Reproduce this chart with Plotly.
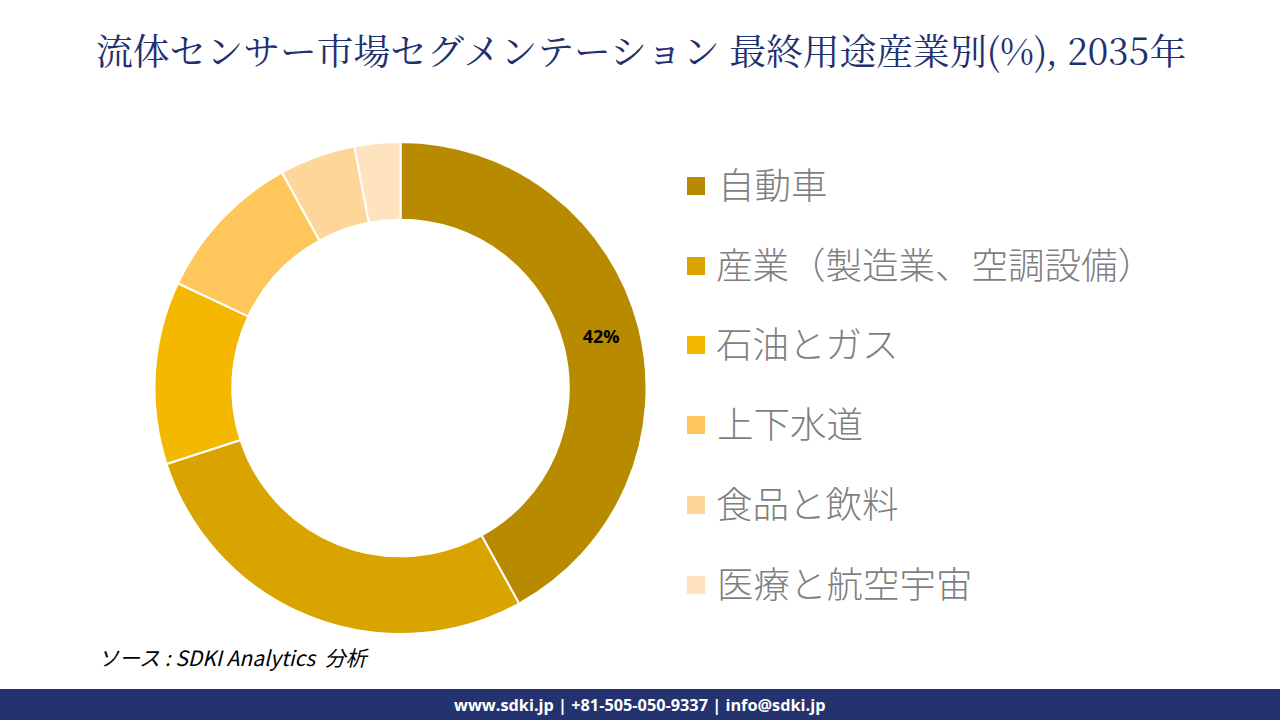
import plotly.graph_objects as go

categories = ["自動車", "産業（製造業、空調設備）", "石油とガス", "上下水道", "食品と飲料", "医療と航空宇宙"]
values = [42, 28, 12, 10, 5, 3]
colors = ["#B88A00", "#D9A400", "#F4B800", "#FFC65C", "#FFD699", "#FFE3BF"]
slice_labels = ["42%", "", "", "", "", ""]
title = "流体センサー市場セグメンテーション 最終用途産業別(%), 2035年"
source = "ソース : SDKI Analytics  分析"
footer = "www.sdki.jp | +81-505-050-9337 | info@sdki.jp"

W, H = 1280, 720
CJK = "Noto Sans CJK JP"
legend_y = [185, 265, 344, 424, 504, 584]
legend_x = [716, 714, 714, 715, 714, 715]

fig = go.Figure(go.Pie(
    labels=categories, values=values, text=slice_labels, textinfo="text",
    textposition="inside", insidetextorientation="horizontal",
    textfont=dict(family="Open Sans", size=18, color="#000000", weight="bold"),
    hole=0.684, sort=False, direction="clockwise", rotation=0,
    marker=dict(colors=colors, line=dict(color="#FFFFFF", width=2)),
    domain=dict(x=[154.5 / W, 646.5 / W], y=[(H - 634.5) / H, (H - 141.5) / H]),
    showlegend=False, hoverinfo="label+percent",
))

shapes = [dict(type="rect", xref="paper", yref="paper", x0=0, x1=1, y0=0, y1=31 / H,
               fillcolor="#243370", line_width=0, layer="below")]
annotations = [
    dict(text=title, x=641 / W, y=(H - 50) / H, xanchor="center", yanchor="middle", showarrow=False,
         font=dict(family="Noto Serif CJK JP, " + CJK, size=36.8, color="#1F3170")),
    dict(text=f"<i>{source}</i>", x=96 / W, y=(H - 657) / H, xanchor="left", yanchor="middle", showarrow=False,
         font=dict(family=CJK + ", Open Sans", size=21, color="#000000")),
    dict(text=f"<b>{footer}</b>", x=639 / W, y=15.5 / H, xanchor="center", yanchor="middle", showarrow=False,
         font=dict(family="Open Sans", size=16.3, color="#FFFFFF")),
]
for name, col, yc, xl in zip(categories, colors, legend_y, legend_x):
    shapes.append(dict(type="rect", xref="paper", yref="paper",
                       x0=687 / W, x1=705 / W, y0=(H - yc - 10) / H, y1=(H - yc + 8) / H,
                       fillcolor=col, line_width=0))
    annotations.append(dict(text=name, x=xl / W, y=(H - yc + 2) / H, xanchor="left", yanchor="middle", showarrow=False,
                            font=dict(family=CJK, size=36.5, color="#7F7F7F", weight=300)))

fig.update_layout(width=W, height=H, margin=dict(l=0, r=0, t=0, b=0),
                  paper_bgcolor="#FFFFFF", plot_bgcolor="#FFFFFF",
                  shapes=shapes, annotations=annotations)
fig.write_html("out.html", config=dict(displayModeBar=False),
               post_script="document.body.style.margin='0';")
